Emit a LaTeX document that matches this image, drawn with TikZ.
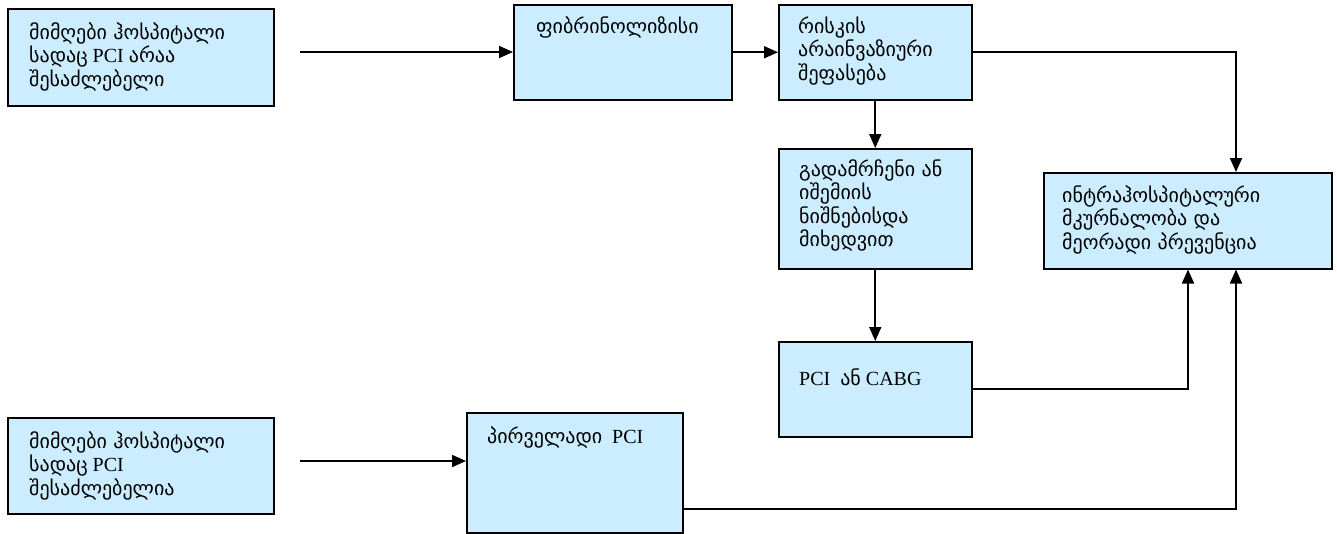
\documentclass[tikz,border=0pt]{standalone}
\usepackage{fontspec}
\setmainfont{Liberation Serif}
\newfontfamily\geofont{DejaVu Sans}
\newcommand\geo{\geofont\fontsize{20}{23.5}\selectfont}
\newcommand\topstrut{\rule{0pt}{20pt}}
\usetikzlibrary{arrows.meta}
\definecolor{boxblue}{HTML}{CCECFF}
\tikzset{
  box/.style={draw=black, line width=1.5pt, fill=boxblue, inner sep=0pt, anchor=north west},
  txt/.style={anchor=north west, align=left, inner sep=0pt,
              font=\fontsize{20}{23.5}\selectfont},
  link/.style={line width=1.8pt, -{Triangle[length=14pt,width=12pt]}},
}
\begin{document}
\begin{tikzpicture}[x=1pt, y=-1pt]
  \useasboundingbox (0,0) rectangle (1337,533);

  % boxes
  \node[box, minimum width=266pt, minimum height=97pt]  (b1) at (7,8) {};
  \node[box, minimum width=218pt, minimum height=95pt]  (b2) at (513,4) {};
  \node[box, minimum width=193pt, minimum height=95pt]  (b3) at (778,4) {};
  \node[box, minimum width=193pt, minimum height=120pt] (b4) at (778,148) {};
  \node[box, minimum width=288pt, minimum height=96pt]  (b5) at (1043,172) {};
  \node[box, minimum width=193pt, minimum height=95pt]  (b6) at (778,341) {};
  \node[box, minimum width=266pt, minimum height=96pt]  (b7) at (7,417) {};
  \node[box, minimum width=216pt, minimum height=120pt] (b8) at (466,412) {};

  % box texts (the first baseline sits 20pt below each text node's top)
  \node[txt] (t1) at ([shift={(22pt,-11pt)}]b1.north west)
    {\topstrut{\geo მიმღები ჰოსპიტალი}\\{\geo სადაც} PCI {\geo არაა}\\{\geo შესაძლებელი}};
  \node[txt] (t2) at ([shift={(23pt,-9pt)}]b2.north west)
    {\topstrut{\geo ფიბრინოლიზისი}};
  \node[txt] (t3) at ([shift={(20pt,-9pt)}]b3.north west)
    {\topstrut{\geo რისკის}\\{\geo არაინვაზიური}\\{\geo შეფასება}};
  \node[txt] (t4) at ([shift={(21pt,-8pt)}]b4.north west)
    {\topstrut{\geo გადამრჩენი ან}\\{\geo იშემიის}\\{\geo ნიშნებისდა}\\{\geo მიხედვით}};
  \node[txt] (t5) at ([shift={(19pt,-10pt)}]b5.north west)
    {\topstrut{\geo ინტრაჰოსპიტალური}\\{\geo მკურნალობა და}\\{\geo მეორადი პრევენცია}};
  \node[txt] (t6) at ([shift={(21pt,-24pt)}]b6.north west)
    {\topstrut PCI\ \ {\geo ან} CABG};
  \node[txt] (t7) at ([shift={(22pt,-11pt)}]b7.north west)
    {\topstrut{\geo მიმღები ჰოსპიტალი}\\{\geo სადაც} PCI\\{\geo შესაძლებელია}};
  \node[txt] (t8) at ([shift={(21pt,-11pt)}]b8.north west)
    {\topstrut{\geo პირველადი}\ \ PCI};

  % free ends and bend columns
  \coordinate (s1) at (300,52);
  \coordinate (s7) at (300,461);
  \coordinate (k1) at (1236,0);
  \coordinate (k2) at (1188,0);

  % connectors
  \draw[link] (s1) -- (s1 -| b2.west);
  \draw[link] (b2.east) -- (b3.west);
  \draw[link] (b3.east) -| (k1 |- b5.north);
  \draw[link] (b3.south) -- (b4.north);
  \draw[link] (b4.south) -- (b6.north);
  \draw[link] (b6.east) -| (k2 |- b5.south);
  \draw[link] (s7) -- (s7 -| b8.west);
  \draw[link] ([yshift=-36pt]b8.east) -| (k1 |- b5.south);
\end{tikzpicture}
\end{document}
